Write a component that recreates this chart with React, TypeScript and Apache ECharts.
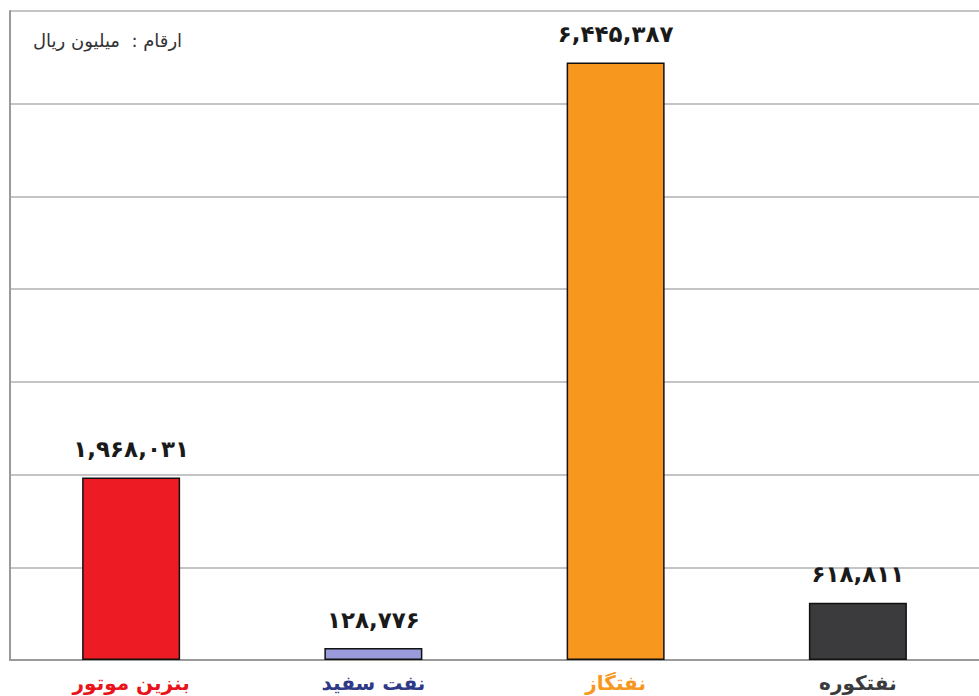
import React, { useEffect, useRef } from "react";
import * as echarts from "echarts";

const categories = ["بنزین موتور", "نفت سفید", "نفتگاز", "نفتکوره"];
const values = [1968031, 128776, 6445387, 618811];
const barColors = ["#ED1C24", "#9B9BDC", "#F7971E", "#3B3B3D"];
const labelColors = ["#E8131B", "#2E3A86", "#F7971E", "#3B3B3D"];
const unitNote = "ارقام :  میلیون ریال";

const faDigits = "۰۱۲۳۴۵۶۷۸۹";
function toFa(n: number): string {
  const s = n.toLocaleString("en-US");
  return s.replace(/[0-9]/g, (d) => faDigits[Number(d)]);
}

export default function App() {
  const ref = useRef<HTMLDivElement>(null);
  useEffect(() => {
    if (!ref.current) return;
    const chart = echarts.init(ref.current, null, { renderer: "svg" });
    chart.setOption({
      animation: false,
      backgroundColor: "#ffffff",
      grid: { left: 10, top: 11, width: 973, height: 649, containLabel: false },
      graphic: [
        {
          type: "text",
          left: 33,
          top: 31,
          style: {
            text: unitNote,
            font: '18px "DejaVu Sans", sans-serif',
            fill: "#333333",
          },
        },
      ],
      xAxis: {
        type: "category",
        data: categories,
        axisLine: { show: true, lineStyle: { color: "#9a9a9a", width: 2 } },
        axisTick: { show: false },
        axisLabel: {
          margin: 13,
          fontFamily: '"DejaVu Sans", sans-serif',
          fontWeight: "bold",
          fontSize: 20,
          color: (_v: string, i: number) => labelColors[i],
        },
      },
      yAxis: {
        type: "value",
        min: 0,
        max: 7000000,
        interval: 1000000,
        axisLine: { show: true, lineStyle: { color: "#9a9a9a", width: 2 } },
        axisTick: { show: false },
        axisLabel: { show: false },
        splitLine: { show: true, lineStyle: { color: "#c4c4c4", width: 2 } },
      },
      series: [
        {
          type: "bar",
          barWidth: 98,
          data: values.map((v, i) => ({
            value: v,
            itemStyle: { color: barColors[i], borderColor: "#111111", borderWidth: 1.5 },
          })),
          label: {
            show: true,
            position: "top",
            distance: 17,
            fontFamily: '"DejaVu Sans", sans-serif',
            fontWeight: "bold",
            fontSize: 23,
            color: "#1a1a1a",
            formatter: (p: any) => toFa(p.value),
          },
        },
      ],
    });
    return () => chart.dispose();
  }, []);
  return <div ref={ref} style={{ width: 979, height: 696, position: "absolute", left: 0, top: 0 }} />;
}
